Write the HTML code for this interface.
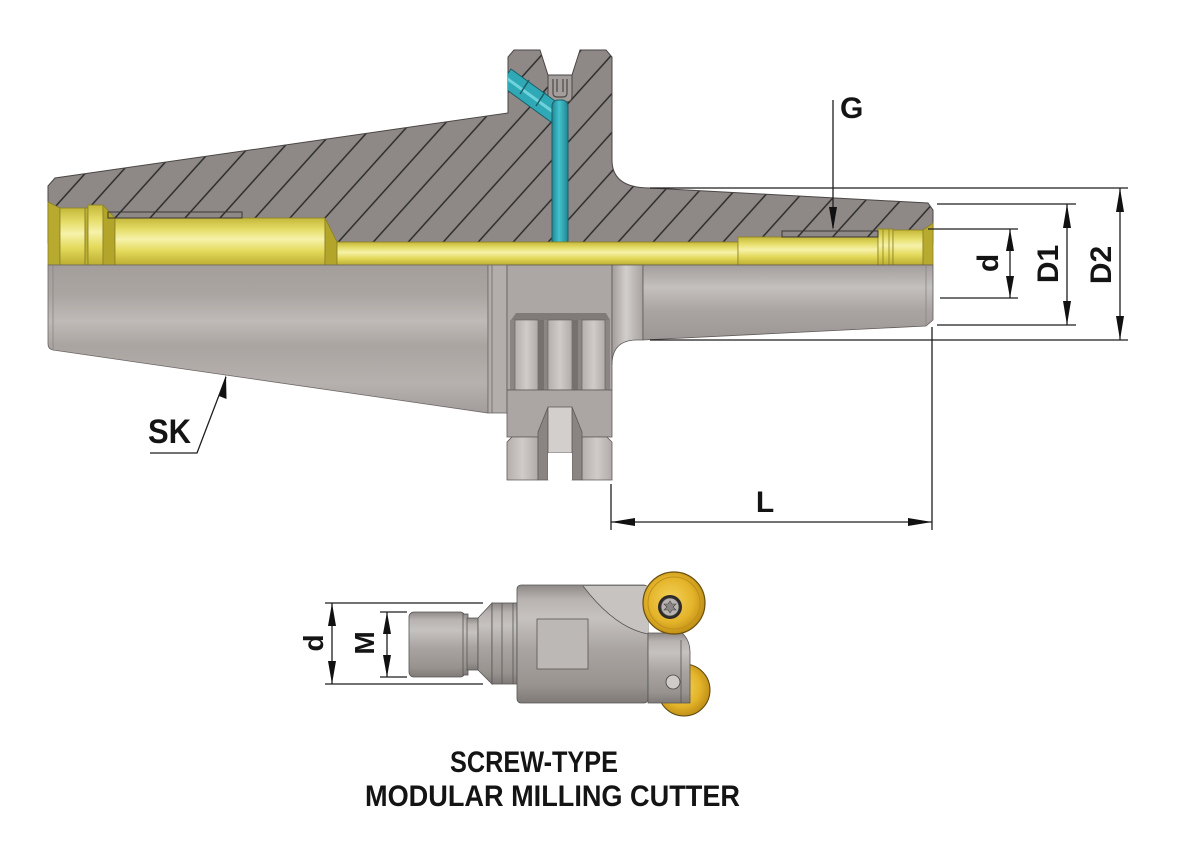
<!DOCTYPE html>
<html><head><meta charset="utf-8"><style>html,body{margin:0;padding:0;background:#fff}svg{display:block}</style></head>
<body>
<svg width="1198" height="867" viewBox="0 0 1198 867" xmlns="http://www.w3.org/2000/svg" font-family="'Liberation Sans', sans-serif" font-weight="bold">
<defs>
<pattern id="hatch" width="26" height="40" patternUnits="userSpaceOnUse" patternTransform="translate(78,162) rotate(42)">
<line x1="13" y1="-5" x2="13" y2="45" stroke="#262626" stroke-width="1.4"/>
</pattern>
<linearGradient id="yel" x1="0" y1="0" x2="0" y2="1">
<stop offset="0" stop-color="#c4b838"/><stop offset="0.25" stop-color="#e6de6a"/><stop offset="0.45" stop-color="#f6f2aa"/><stop offset="0.7" stop-color="#e4da5c"/><stop offset="1" stop-color="#bcae30"/>
</linearGradient>
<linearGradient id="coneG" x1="0" y1="265" x2="0" y2="413" gradientUnits="userSpaceOnUse">
<stop offset="0" stop-color="#a49e9b"/><stop offset="0.2" stop-color="#aba5a2"/><stop offset="0.38" stop-color="#bfbab7"/><stop offset="0.55" stop-color="#aaa4a1"/><stop offset="0.8" stop-color="#b6b1ae"/><stop offset="1" stop-color="#a29d9a"/>
</linearGradient>
<linearGradient id="cylG" x1="0" y1="0" x2="0" y2="1">
<stop offset="0" stop-color="#a39e9b"/><stop offset="0.3" stop-color="#c4c0bd"/><stop offset="0.6" stop-color="#aaa5a2"/><stop offset="1" stop-color="#9c9794"/>
</linearGradient>
<linearGradient id="colG" x1="0" y1="0" x2="1" y2="0">
<stop offset="0" stop-color="#a19c99"/><stop offset="0.45" stop-color="#d2cecb"/><stop offset="1" stop-color="#a7a29f"/>
</linearGradient>
<linearGradient id="blkG" x1="0" y1="0" x2="1" y2="0">
<stop offset="0" stop-color="#b4afac"/><stop offset="0.5" stop-color="#d0cbc8"/><stop offset="1" stop-color="#b0aba8"/>
</linearGradient>
<linearGradient id="tealG" x1="0" y1="0" x2="1" y2="0">
<stop offset="0" stop-color="#1d8894"/><stop offset="0.45" stop-color="#45c2cd"/><stop offset="1" stop-color="#1f8792"/>
</linearGradient>
<linearGradient id="metV" x1="0" y1="0" x2="0" y2="1">
<stop offset="0" stop-color="#8e8986"/><stop offset="0.12" stop-color="#b8b3b0"/><stop offset="0.28" stop-color="#c6c2bf"/><stop offset="0.55" stop-color="#a9a4a1"/><stop offset="0.85" stop-color="#98938f"/><stop offset="1" stop-color="#7f7a77"/>
</linearGradient>
<radialGradient id="gold" cx="0.45" cy="0.45" r="0.6">
<stop offset="0" stop-color="#f3d25a"/><stop offset="0.6" stop-color="#e4b42a"/><stop offset="1" stop-color="#b98812"/>
</radialGradient>
<clipPath id="secClip">
<path d="M48,186 L55,178 L508,113 L508,57 L514,50 L540,50 L548,75 L572,75 L580,50 L606,50 L612,57 L612,160 Q612,188 650,188 L928,203 L933,210 L933,243 L48,243 Z"/>
</clipPath>
</defs>

<path d="M48,186 L55,178 L508,113 L508,57 L514,50 L540,50 L548,75 L572,75 L580,50 L606,50 L612,57 L612,160 Q612,188 650,188 L928,203 L933,210 L933,243 L48,243 Z" fill="#8e8987"/>
<path d="M48,186 L55,178 L508,113 L508,57 L514,50 L540,50 L548,75 L572,75 L580,50 L606,50 L612,57 L612,160 Q612,188 650,188 L928,203 L933,210 L933,243 L48,243 Z" fill="url(#hatch)" stroke="#4a4644" stroke-width="1"/>
<path d="M548,75 L548,96 Q548,102 554,102 L566,102 Q572,102 572,96 L572,75 Z" fill="#a39e9b" stroke="#4a4644" stroke-width="1"/>
<path d="M553,79 L553,93 Q553,97 557,97 L563,97 Q567,97 567,93 L567,79 M557,79 L557,92 M563,79 L563,92" fill="none" stroke="#4d4947" stroke-width="1.2"/>

<g clip-path="url(#secClip)">
<polygon points="511,69 562,106 551,122 500,85" fill="#2fa9b6" stroke="#1b5f67" stroke-width="1"/>
<line x1="505" y1="77" x2="556" y2="114" stroke="#6fd3dc" stroke-width="3"/>
<line x1="529" y1="80" x2="520" y2="94" stroke="#1b5f67" stroke-width="1.5"/>
<line x1="545" y1="92" x2="536" y2="106" stroke="#1b5f67" stroke-width="1.5"/>
<rect x="552" y="100" width="16" height="146" rx="6" fill="url(#tealG)" stroke="#1b5f67" stroke-width="1"/>
</g>

<g stroke="#8a7f22" stroke-width="0.8">
<polygon points="48,202 60,208 60,265 48,265" fill="#b8aa2e"/>
<rect x="60" y="208" width="25" height="57" fill="url(#yel)"/>
<rect x="85" y="208" width="3" height="57" fill="#bdb038"/>
<rect x="88" y="205" width="15" height="60" fill="url(#yel)"/>
<polygon points="103,205 115,218 115,265 103,265" fill="#b3a52a"/>
<rect x="115" y="218" width="210" height="47" fill="url(#yel)"/>
<polygon points="325,218 337,242 337,265 325,265" fill="#b3a52a"/>
<rect x="337" y="242" width="401" height="23" fill="url(#yel)"/>
<rect x="738" y="237" width="140" height="28" fill="url(#yel)"/>
<rect x="878" y="229" width="15" height="36" fill="url(#yel)"/>
<line x1="883" y1="229" x2="883" y2="265"/>
<line x1="889" y1="229" x2="889" y2="265"/>
<rect x="893" y="230" width="30" height="35" fill="url(#yel)"/>
<polygon points="923,230 933,223 933,265 923,265" fill="#b8aa2e"/>
</g>
<rect x="108" y="212" width="134" height="6" fill="none" stroke="#3a3634" stroke-width="1"/>
<rect x="782" y="231" width="96" height="6" fill="none" stroke="#3a3634" stroke-width="1"/>

<path d="M48,265 L488,265 L488,413 L53,350 Q48,349 48,344 Z" fill="url(#coneG)" stroke="#6b6664" stroke-width="0.8"/>
<line x1="53" y1="265" x2="53" y2="349" stroke="#8a8582" stroke-width="0.8"/>
<rect x="488" y="265" width="19" height="148" fill="#b3aeab" stroke="#6b6664" stroke-width="0.8"/>
<line x1="492" y1="265" x2="492" y2="413" stroke="#6b6664" stroke-width="0.8"/>

<rect x="507" y="265" width="105" height="125" fill="#aca7a4" stroke="#5f5a58" stroke-width="0.8"/>
<polygon points="511,320 516,313 606,313 610,320" fill="#807b79"/>
<rect x="510" y="320" width="100" height="70" fill="#8b8684"/>
<rect x="515" y="320" width="23" height="70" fill="url(#blkG)" stroke="#5f5a58" stroke-width="0.6"/>
<rect x="548" y="320" width="24" height="70" fill="url(#blkG)" stroke="#5f5a58" stroke-width="0.6"/>
<rect x="582" y="320" width="23" height="70" fill="url(#blkG)" stroke="#5f5a58" stroke-width="0.6"/>
<rect x="538" y="320" width="6" height="70" fill="#76716f"/>
<rect x="572" y="320" width="6" height="70" fill="#76716f"/>
<rect x="507" y="390" width="105" height="47" fill="#aba6a3" stroke="#5f5a58" stroke-width="0.8"/>
<polygon points="507,442 512,437 538,437 538,480 507,480" fill="url(#blkG)" stroke="#5f5a58" stroke-width="0.8"/>
<polygon points="582,437 607,437 612,442 612,480 582,480" fill="url(#blkG)" stroke="#5f5a58" stroke-width="0.8"/>
<polygon points="548,407 538,432 538,480 548,480" fill="#8a8583" stroke="#5f5a58" stroke-width="0.8"/>
<polygon points="572,407 582,432 582,480 572,480" fill="#8a8583" stroke="#5f5a58" stroke-width="0.8"/>
<rect x="548" y="407" width="24" height="46" fill="#d3cfcc" stroke="#5f5a58" stroke-width="0.8"/>
<rect x="548" y="453" width="24" height="27" fill="#ffffff"/>

<path d="M612,265 L643,265 L643,340 L637,340 Q612,340 612,365 Z" fill="url(#colG)" stroke="#5f5a58" stroke-width="0.8"/>
<path d="M643,265 L933,265 L933,320 L926,326 L643,340 Z" fill="url(#cylG)" stroke="#5f5a58" stroke-width="0.8"/>
<line x1="926" y1="265" x2="926" y2="326" stroke="#8a8582" stroke-width="0.8"/>

<g stroke="#1e1e1e" stroke-width="1.3" fill="none">
<line x1="650" y1="188" x2="1128" y2="188"/>
<line x1="937" y1="204" x2="1076" y2="204"/>
<line x1="928" y1="229" x2="1018" y2="229"/>
<line x1="940" y1="298" x2="1018" y2="298"/>
<line x1="937" y1="325" x2="1076" y2="325"/>
<line x1="650" y1="340" x2="1128" y2="340"/>
<line x1="1010" y1="229" x2="1010" y2="298"/>
<line x1="1067" y1="204" x2="1067" y2="325"/>
<line x1="1120" y1="188" x2="1120" y2="340"/>
<line x1="833" y1="100" x2="833" y2="228"/>
<line x1="611" y1="484" x2="611" y2="530"/>
<line x1="932" y1="327" x2="932" y2="530"/>
<line x1="611" y1="522" x2="932" y2="522"/>
<polyline points="150,453 197,453 226,377"/>
</g>
<g fill="#111">
<polygon points="1010,229 1006,251 1014,251"/>
<polygon points="1010,298 1006,276 1014,276"/>
<polygon points="1067,204 1063,228 1071,228"/>
<polygon points="1067,325 1063,301 1071,301"/>
<polygon points="1120,188 1116,212 1124,212"/>
<polygon points="1120,340 1116,316 1124,316"/>
<polygon points="833,230 829,207 837,207"/>
<polygon points="611,522 635,518 635,526"/>
<polygon points="932,522 908,518 908,526"/>
<polygon points="226,375 226.5,399 219,396"/>
</g>

<g fill="#141414" font-size="30">
<text x="840" y="118">G</text>
<text x="765" y="512" text-anchor="middle">L</text>
<text x="148" y="443" font-size="34" textLength="43" lengthAdjust="spacingAndGlyphs">SK</text>
<text transform="translate(987,263) rotate(-90)" x="0" y="11" text-anchor="middle">d</text>
<text transform="translate(1047,264) rotate(-90)" x="0" y="11" text-anchor="middle">D1</text>
<text transform="translate(1100,265) rotate(-90)" x="0" y="11" text-anchor="middle">D2</text>
</g>

<g stroke="#555" stroke-width="0.8">
<rect x="409" y="612" width="56" height="65" rx="5" fill="url(#metV)"/>
<rect x="463" y="614" width="5" height="61" fill="url(#metV)"/>
<rect x="467" y="618" width="11" height="52" fill="url(#metV)"/>
<polygon points="478,618 492,603 492,684 478,670" fill="url(#metV)"/>
<rect x="492" y="603" width="25" height="81" fill="url(#metV)"/>
<line x1="502" y1="603" x2="502" y2="684"/>
<line x1="513" y1="603" x2="513" y2="684"/>
<circle cx="684" cy="690" r="26" fill="url(#gold)" stroke="#5a4510" stroke-width="1"/>
<rect x="517" y="585" width="131" height="118" rx="4" fill="url(#metV)"/>
<path d="M583,586 Q615,628 648,634 L648,586 Z" fill="#c7c3c0" stroke="none"/>
<path d="M583,586 Q615,628 648,634" fill="none"/>
<rect x="537" y="619" width="51" height="50" fill="#bcb8b5" stroke="#5a5553"/>
<path d="M648,633 L682,633 Q690,640 690,652 L690,703 L648,703 Z" fill="url(#metV)"/>
<line x1="681" y1="640" x2="681" y2="703"/>
<circle cx="673" cy="682" r="7" fill="#cfcbc8" stroke="#444"/>
<circle cx="674" cy="603" r="31" fill="url(#gold)" stroke="#6a5010" stroke-width="1.2"/>
<circle cx="674" cy="603" r="26" fill="none" stroke="#c0901a" stroke-width="1"/>
<circle cx="670" cy="607" r="12" fill="#2e2b28" stroke="none"/>
<circle cx="670" cy="607" r="9" fill="#b8b4b1" stroke="#444"/>
<path d="M670,601 L672,604 L676,604 L673,607 L676,610 L672,610 L670,613 L668,610 L664,610 L667,607 L664,604 L668,604 Z" fill="#8a8683" stroke="#444" stroke-width="0.6"/>
</g>

<g stroke="#1e1e1e" stroke-width="1.3">
<line x1="325" y1="603" x2="483" y2="603"/>
<line x1="325" y1="684" x2="483" y2="684"/>
<line x1="332" y1="603" x2="332" y2="684"/>
<line x1="380" y1="612" x2="407" y2="612"/>
<line x1="380" y1="677" x2="407" y2="677"/>
<line x1="387" y1="612" x2="387" y2="677"/>
</g>
<g fill="#111">
<polygon points="332,603 328,626 336,626"/>
<polygon points="332,684 328,661 336,661"/>
<polygon points="387,612 383,634 391,634"/>
<polygon points="387,677 383,655 391,655"/>
</g>
<g fill="#141414" font-size="28">
<text transform="translate(313,643) rotate(-90)" x="0" y="10" text-anchor="middle">d</text>
<text transform="translate(364,643) rotate(-90)" x="0" y="10" text-anchor="middle">M</text>
</g>

<g fill="#141414" font-size="30">
<text x="450" y="772" textLength="168" lengthAdjust="spacingAndGlyphs">SCREW-TYPE</text>
<text x="365" y="806" textLength="375" lengthAdjust="spacingAndGlyphs">MODULAR MILLING CUTTER</text>
</g>
</svg>
</body></html>
